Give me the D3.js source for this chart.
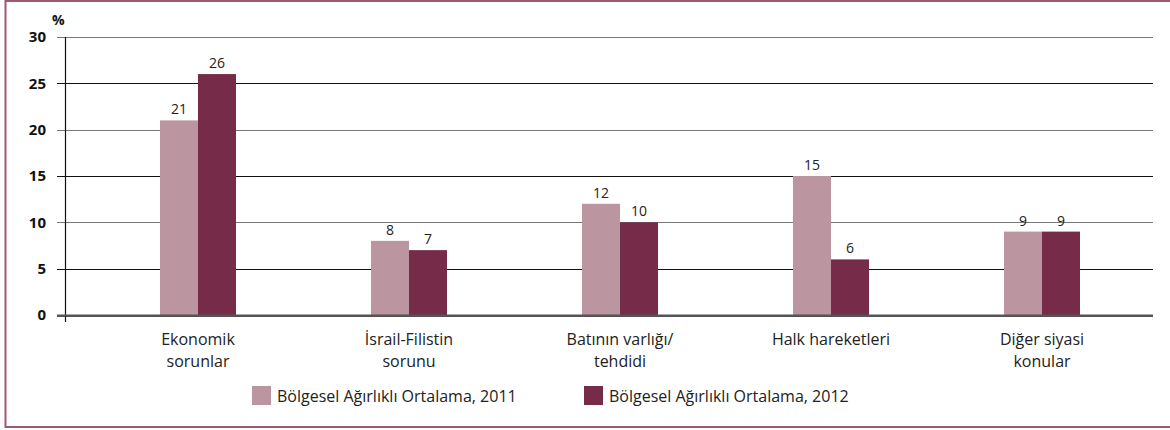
<!DOCTYPE html>
<meta charset="utf-8">
<style>
body { margin: 0; background: #fff; font-family: "Open Sans", sans-serif; }
.grid line { shape-rendering: crispEdges; }
</style>
<body>
<script src="https://d3js.org/d3.v7.min.js"></script>
<script>

// data
var categories = [["Ekonomik", "sorunlar"], ["İsrail-Filistin", "sorunu"], ["Batının varlığı/", "tehdidi"], ["Halk hareketleri"], ["Diğer siyasi", "konular"]];
var seriesNames = ["Bölgesel Ağırlıklı Ortalama, 2011", "Bölgesel Ağırlıklı Ortalama, 2012"];
var values2011 = [21, 8, 12, 15, 9];
var values2012 = [26, 7, 10, 6, 9];
var yTicks = [0, 5, 10, 15, 20, 25, 30];

var colors = ["#bb95a0", "#762c48"];

var W = 1170, H = 430;
var svg = d3.select("body").append("svg")
  .attr("width", W).attr("height", H);

// frame (left, top, bottom only)
svg.append("path")
  .attr("d", "M1170,1 H5.5 V427 H1170")
  .attr("fill", "none")
  .attr("stroke", "#9b5a73")
  .attr("stroke-width", 2);

var y = d3.scaleLinear().domain([0, 30]).range([315, 37]);
var x = d3.scaleBand().domain(d3.range(categories.length)).range([92.5, 1147.5]);
var xs = d3.scaleBand().domain([0, 1]).range([0, 76]);

// gridlines
var grid = svg.append("g").attr("class", "grid");
grid.selectAll("line").data(yTicks).enter().append("line")
  .attr("x1", 57).attr("x2", 1153)
  .attr("y1", function(d) { return Math.round(y(d)) + 0.5; })
  .attr("y2", function(d) { return Math.round(y(d)) + 0.5; })
  .attr("stroke", function(d) { return d === 0 ? "#555" : (d % 10 === 0 ? "#777" : "#111"); })
  .attr("stroke-width", function(d) { return d === 0 ? 2 : 1.5; });

// y axis line
svg.append("line")
  .attr("x1", 65.5).attr("x2", 65.5).attr("y1", 37).attr("y2", 322)
  .attr("stroke", "#111").attr("stroke-width", 1.2);

// tick labels
svg.append("g").selectAll("text").data(yTicks).enter().append("text")
  .attr("x", 46).attr("y", function(d) { return y(d); })
  .attr("dy", "0.35em")
  .attr("text-anchor", "end")
  .style("font-size", "15px").style("font-weight", "bold").style("fill", "#111")
  .text(function(d) { return d; });

svg.append("text")
  .attr("x", 52).attr("y", 25)
  .style("font-size", "14px").style("font-weight", "bold").style("fill", "#111")
  .text("%");

// bars
var series = [values2011, values2012];
series.forEach(function(vals, s) {
  svg.append("g").selectAll("rect").data(vals).enter().append("rect")
    .attr("x", function(d, i) { return x(i) + x.bandwidth() / 2 - 38 + xs(s); })
    .attr("width", xs.bandwidth())
    .attr("y", function(d) { return y(d); })
    .attr("height", function(d) { return y(0) - y(d); })
    .attr("fill", colors[s]);

  svg.append("g").selectAll("text").data(vals).enter().append("text")
    .attr("x", function(d, i) { return x(i) + x.bandwidth() / 2 - 38 + xs(s) + xs.bandwidth() / 2; })
    .attr("y", function(d) { return y(d) - 6; })
    .attr("text-anchor", "middle")
    .style("font-size", "14px").style("fill", "#222")
    .text(function(d) { return d; });
});

// redraw baseline above bars
svg.append("line")
  .attr("x1", 57).attr("x2", 1153).attr("y1", 315.5).attr("y2", 315.5)
  .attr("stroke", "#555").attr("stroke-width", 2);

// category labels
var cl = svg.append("g").selectAll("text").data(categories).enter().append("text")
  .attr("x", function(d, i) { return x(i) + x.bandwidth() / 2; })
  .attr("y", 345)
  .attr("text-anchor", "middle")
  .style("font-size", "16px").style("fill", "#222");
cl.selectAll("tspan").data(function(d) { return d; }).enter().append("tspan")
  .attr("x", function() { return this.parentNode.getAttribute("x"); })
  .attr("dy", function(d, i) { return i === 0 ? 0 : 22; })
  .text(function(d) { return d; });

// legend
var legendX = [252, 584];
var lg = svg.append("g").selectAll("g").data(seriesNames).enter().append("g")
  .attr("transform", function(d, i) { return "translate(" + legendX[i] + ",386)"; });
lg.append("rect").attr("width", 19).attr("height", 19)
  .attr("fill", function(d, i) { return colors[i]; });
lg.append("text").attr("x", 25).attr("y", 10).attr("dy", "0.35em")
  .style("font-size", "16px").style("fill", "#222")
  .text(function(d) { return d; });

</script>
